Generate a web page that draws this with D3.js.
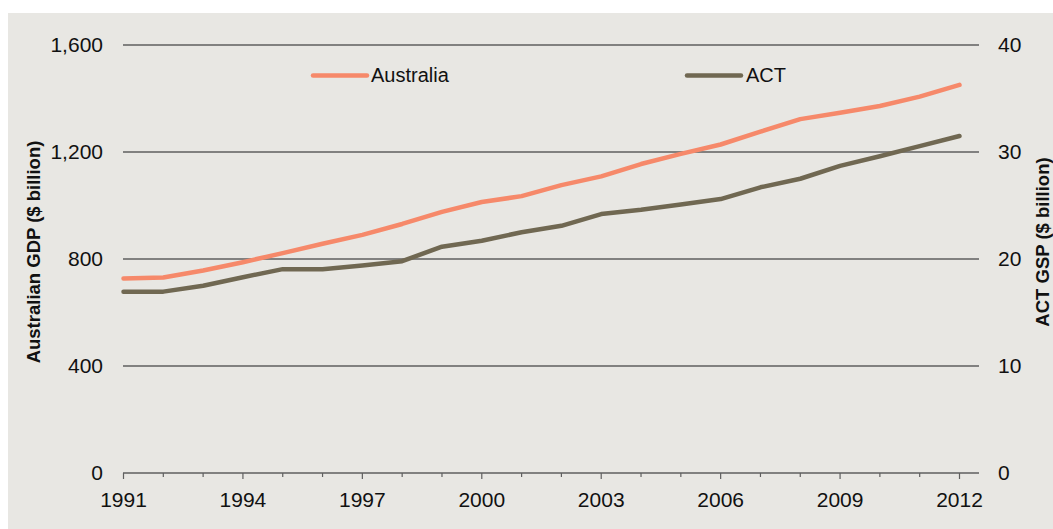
<!DOCTYPE html>
<html><head><meta charset="utf-8">
<script src="https://cdn.jsdelivr.net/npm/d3@7"></script>
<style>
html,body{margin:0;padding:0;background:#ffffff;}
svg{display:block;font-family:"Liberation Sans",Arial,sans-serif;}
</style></head>
<body>
<svg id="chart" width="1053" height="529"></svg>
<script>
const years = [1991,1992,1993,1994,1995,1996,1997,1998,1999,2000,2001,2002,2003,2004,2005,2006,2007,2008,2009,2010,2011,2012];
const australiaGDP = [727,731,757,788,822,857,890,931,976,1013,1035,1076,1109,1155,1193,1228,1276,1323,1347,1372,1407,1451];
const actGSP = [16.95,16.95,17.5,18.3,19.05,19.05,19.4,19.8,21.15,21.7,22.5,23.1,24.2,24.6,25.1,25.6,26.7,27.5,28.7,29.6,30.55,31.5];
const leftTicks = [0,400,800,1200,1600];
const rightTicks = [0,10,20,30,40];
const xLabelYears = [1991,1994,1997,2000,2003,2006,2009,2012];
const seriesNames = ["Australia","ACT"];

(function(){
const svg = d3.select("#chart");
const W = 1053, H = 529;
const plotLeft = 123, plotRight = 979, plotTop = 45, plotBottom = 473;
const gridColor = "#5f5f5f";
const colAus = "#f6896a", colAct = "#706852";

svg.append("rect").attr("x",8).attr("y",13).attr("width",W-8).attr("height",H-13).attr("fill","#e8e7e3");

const x = d3.scaleLinear().domain([1991,2012]).range([123.5,959.5]);
const yL = d3.scaleLinear().domain([0,1600]).range([plotBottom,plotTop]);
const yR = d3.scaleLinear().domain([0,40]).range([plotBottom,plotTop]);

// gridlines
svg.append("g").selectAll("line").data(leftTicks.filter(d=>d>0)).join("line")
  .attr("x1",plotLeft).attr("x2",plotRight)
  .attr("y1",d=>yL(d)).attr("y2",d=>yL(d))
  .attr("stroke",gridColor).attr("stroke-width",1.3);

// x axis
const xAxis = svg.append("g");
xAxis.append("line").attr("x1",plotLeft).attr("x2",plotRight).attr("y1",plotBottom).attr("y2",plotBottom)
  .attr("stroke",gridColor).attr("stroke-width",1.3);
xAxis.selectAll("line.tick").data(years).join("line").attr("class","tick")
  .attr("x1",d=>x(d)).attr("x2",d=>x(d))
  .attr("y1",plotBottom).attr("y2",d=>plotBottom + (xLabelYears.includes(d)?6:4))
  .attr("stroke",gridColor).attr("stroke-width",1.2);
xAxis.selectAll("text").data(xLabelYears).join("text")
  .attr("x",d=>x(d)).attr("y",507).attr("text-anchor","middle")
  .attr("font-size",21).attr("fill","#111").text(d=>d);

// left labels
svg.append("g").selectAll("text").data(leftTicks).join("text")
  .attr("x",103).attr("y",d=>yL(d)).attr("dy","0.35em").attr("text-anchor","end")
  .attr("font-size",21).attr("fill","#111").text(d=>d3.format(",")(d));
// right labels
svg.append("g").selectAll("text").data(rightTicks).join("text")
  .attr("x",998).attr("y",d=>yR(d)).attr("dy","0.35em").attr("text-anchor","start")
  .attr("font-size",21).attr("fill","#111").text(d=>d);

// axis titles
svg.append("text").attr("transform","translate(40,252) rotate(-90)").attr("text-anchor","middle")
  .attr("font-size",18.5).attr("font-weight","bold").attr("fill","#111").text("Australian GDP ($ billion)");
svg.append("text").attr("transform","translate(1049,242) rotate(-90)").attr("text-anchor","middle")
  .attr("font-size",18.5).attr("font-weight","bold").attr("fill","#111").text("ACT GSP ($ billion)");

// lines
const lineL = d3.line().x((d,i)=>x(years[i])).y(d=>yL(d));
const lineR = d3.line().x((d,i)=>x(years[i])).y(d=>yR(d));
svg.append("path").datum(australiaGDP).attr("d",lineL).attr("fill","none")
  .attr("stroke",colAus).attr("stroke-width",4.5).attr("stroke-linecap","round").attr("stroke-linejoin","round");
svg.append("path").datum(actGSP).attr("d",lineR).attr("fill","none")
  .attr("stroke",colAct).attr("stroke-width",4.5).attr("stroke-linecap","round").attr("stroke-linejoin","round");

// legend
const legend = [{name:seriesNames[0],color:colAus,x1:313,x2:367,tx:371},{name:seriesNames[1],color:colAct,x1:687,x2:741,tx:746}];
const lg = svg.append("g").selectAll("g").data(legend).join("g");
lg.append("line").attr("x1",d=>d.x1).attr("x2",d=>d.x2).attr("y1",75.5).attr("y2",75.5)
  .attr("stroke",d=>d.color).attr("stroke-width",4.5).attr("stroke-linecap","round");
lg.append("text").attr("x",d=>d.tx).attr("y",82).attr("font-size",20).attr("fill","#111").text(d=>d.name);
})();
</script>
</body></html>
